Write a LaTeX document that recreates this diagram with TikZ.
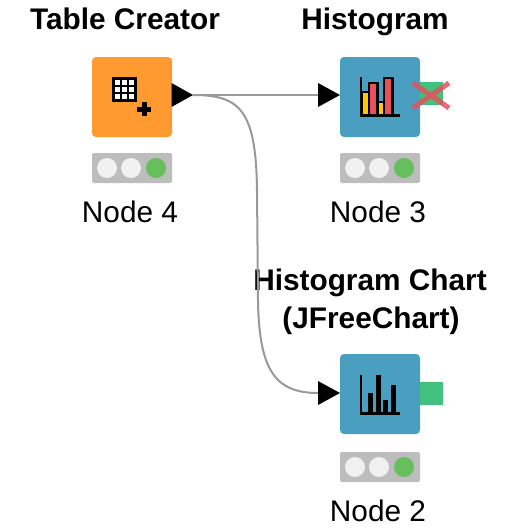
\documentclass[tikz,border=0pt]{standalone}
\usepackage{fontspec}
\setmainfont{Liberation Sans}
\definecolor{srccol}{HTML}{FF9A30}
\definecolor{viewcol}{HTML}{4A9FC0}
\definecolor{portcol}{HTML}{42C07E}
\definecolor{barred}{HTML}{E8505B}
\definecolor{baryel}{HTML}{FFC800}
\definecolor{lightoff}{HTML}{F0F0F0}
\definecolor{lighton}{HTML}{66BE5C}
\definecolor{lightbar}{HTML}{BDBDBD}
\definecolor{wirecol}{HTML}{999999}
\tikzset{
  knode/.style={minimum size=80pt,inner sep=0pt,rounded corners=4pt},
  lightbox/.style={fill=lightbar,minimum width=80pt,minimum height=30pt,inner sep=0pt,rounded corners=2pt},
  lamp/.style={circle,minimum size=20pt,inner sep=0pt},
  outport/.style={fill=portcol,minimum width=23pt,minimum height=23pt,inner sep=0pt},
  title/.style={font=\fontsize{29.8}{38}\selectfont\bfseries,anchor=base},
  caption/.style={font=\fontsize{29.8}{32}\selectfont,anchor=base},
  wire/.style={draw=wirecol,line width=2pt},
}
\begin{document}
\begin{tikzpicture}[x=1pt,y=-1pt]
\useasboundingbox (0,0) rectangle (512,531);
% nodes
\node[knode,fill=srccol] (n4) at (132,97) {};
\node[knode,fill=viewcol] (n3) at (380,97) {};
\node[knode,fill=viewcol] (n2) at (380,394) {};
% titles and captions
\node[title] (t4) at (125,29) {Table Creator};
\node[title] (t3) at (375,29) {Histogram};
\node[title] (t2) at (370,290) {Histogram Chart};
\node[title] (t2b) at (371,328) {(JFreeChart)};
\node[caption] (c4) at (130,222) {Node 4};
\node[caption] (c3) at (378,222) {Node 3};
\node[caption] (c2) at (378,521) {Node 2};
% status lights
\foreach \k/\x/\y in {4/132/168,3/380/168,2/380/467} {
  \node[lightbox] (l\k) at (\x,\y) {};
  \node[lamp,fill=lightoff] (l\k a) at (\x-25,\y) {};
  \node[lamp,fill=lightoff] (l\k b) at (\x-1,\y) {};
  \node[lamp,fill=lighton] (l\k c) at (\x+24,\y) {};
}
% ports
\coordinate (out4) at (193,95);
\coordinate (in3) at (318,95);
\coordinate (in2) at (318,393);
\draw[wire] (out4) -- (in3);
\draw[wire] (out4) .. controls (240,95) and (256,110) .. (257,190) -- (258,300) .. controls (259,370) and (275,393) .. (in2);
\fill (171.5,83) -- (out4) -- (171.5,107) -- cycle;
\fill (318,83) -- (340,95) -- (318,107) -- cycle;
\fill (318,381) -- (340,393) -- (318,405) -- cycle;
\node[outport] (o3) at (431.5,93.5) {};
\node[outport] (o2) at (431.5,393.5) {};
\draw[barred,line width=5pt,opacity=.85] (413,83) -- (449,108) (413,108) -- (449,83);
% table icon
\fill (112,77) rectangle (137,102);
\foreach \i in {0,1,2} {\foreach \j in {0,1,2} {
  \fill[white] (114.5+7.3*\i,79.5+7.3*\j) rectangle ++(5,5);
}}
\draw[line width=5pt] (137,109) -- (151,109) (144,102) -- (144,116);
% bar icon
\foreach \x/\w/\y/\c in {362/7/92/baryel,369/8.5/83/barred,377.5/6.5/102/baryel,384/8.5/78/barred} {
  \draw[fill=\c,line width=2.4pt] (\x,115) rectangle (\x+\w,\y);
}
\draw[line width=2.5pt] (361,77) -- (361,115.5) -- (400,115.5);
% black bars
\foreach \x/\y in {367.5/393,375.5/375,382.5/400,390.5/385} {
  \fill (\x,414) rectangle (\x+5,\y);
}
\draw[line width=2.5pt] (361,375) -- (361,413.5) -- (400,413.5);
\end{tikzpicture}
\end{document}
